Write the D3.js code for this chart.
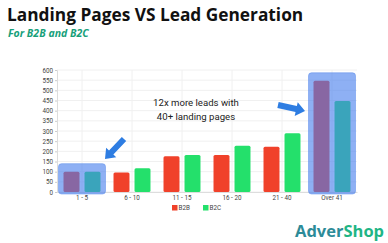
<!DOCTYPE html>
<html>
<head>
<meta charset="utf-8">
<script src="https://cdn.jsdelivr.net/npm/d3@7"></script>
<style>
  body { margin: 0; background: #fff; }
  svg { display: block; }
</style>
</head>
<body>
<svg id="chart" width="388" height="243"></svg>
<script>
const categories = ['1 - 5', '6 - 10', '11 - 15', '16 - 20', '21 - 40', 'Over 41'];
const b2b = [100, 96, 176, 182, 222, 547];
const b2c = [100, 117, 182, 227, 289, 447];
const seriesNames = ['B2B', 'B2C'];
const highlighted = ['1 - 5', 'Over 41'];
const yTicks = d3.range(0, 601, 50);

const margin = { top: 70, left: 57, right: 31, bottom: 51 };
const width = 388, height = 243;
const svg = d3.select('#chart');

// title
svg.append('text')
  .attr('x', 7).attr('y', 21)
  .attr('font-family', 'Open Sans')
  .attr('font-weight', 700)
  .attr('font-size', 17.3)
  .attr('fill', '#111')
  .text('Landing Pages VS Lead Generation');
svg.append('text')
  .attr('x', 8).attr('y', 37)
  .attr('font-family', 'Open Sans')
  .attr('font-weight', 700)
  .attr('font-style', 'italic')
  .attr('font-size', 10.5)
  .attr('fill', '#17a07a')
  .text('For B2B and B2C');

const x = d3.scaleBand()
  .domain(categories)
  .range([margin.left, width - margin.right]);
const y = d3.scaleLinear()
  .domain([0, 600])
  .range([height - margin.bottom, margin.top]);
const sub = d3.scaleBand()
  .domain(seriesNames)
  .range([0, x.bandwidth()])
  .paddingInner(0.24)
  .paddingOuter(0.31);
const color = d3.scaleOrdinal(seriesNames, ['#f0412a', '#24e06b']);

// grid
svg.append('g')
  .selectAll('line.h')
  .data(yTicks)
  .enter()
  .append('line')
  .attr('x1', margin.left).attr('x2', width - margin.right)
  .attr('y1', d => y(d)).attr('y2', d => y(d))
  .attr('stroke', '#f0f0f0');
svg.append('g')
  .selectAll('line.v')
  .data(categories)
  .enter()
  .append('line')
  .attr('x1', d => x(d) + x.bandwidth() / 2).attr('x2', d => x(d) + x.bandwidth() / 2)
  .attr('y1', margin.top).attr('y2', y(0))
  .attr('stroke', '#f0f0f0');

// y axis
const yAxis = svg.append('g')
  .attr('transform', `translate(${margin.left},0)`)
  .call(d3.axisLeft(y).tickValues(yTicks).tickSize(2).tickPadding(2));
yAxis.select('.domain').attr('stroke', '#ddd');
yAxis.selectAll('.tick line').attr('stroke', '#ccc');
yAxis.selectAll('text')
  .attr('font-family', 'Roboto')
  .attr('font-size', 6.3)
  .attr('fill', '#444');

// x axis
const xAxis = svg.append('g')
  .attr('transform', `translate(0,${y(0)})`)
  .call(d3.axisBottom(x).tickSize(0).tickPadding(4));
xAxis.select('.domain').attr('stroke', '#ddd');
xAxis.selectAll('text')
  .attr('font-family', 'Roboto')
  .attr('font-size', 6.3)
  .attr('fill', '#444');

// bars
const rows = categories.map((c, i) => ({ cat: c, values: [b2b[i], b2c[i]] }));
const groups = svg.append('g')
  .selectAll('g')
  .data(rows)
  .enter()
  .append('g')
  .attr('transform', d => `translate(${x(d.cat)},0)`);
groups.selectAll('rect')
  .data(d => d.values.map((v, j) => ({ key: seriesNames[j], v })))
  .enter()
  .append('rect')
  .attr('x', d => sub(d.key))
  .attr('width', sub.bandwidth())
  .attr('y', d => y(d.v))
  .attr('height', d => y(0) - y(d.v))
  .attr('rx', 1.5)
  .attr('fill', d => color(d.key));

// highlight boxes
svg.append('g')
  .selectAll('rect')
  .data(rows.filter(r => highlighted.includes(r.cat)))
  .enter()
  .append('rect')
  .attr('x', d => x(d.cat) + x.bandwidth() / 2 - 23.5)
  .attr('width', 47)
  .attr('y', d => y(d3.max(d.values)) - 8)
  .attr('height', d => y(0) - y(d3.max(d.values)) + 10)
  .attr('rx', 3)
  .attr('fill', 'rgba(72,128,238,0.62)')
  .attr('stroke', 'rgba(90,140,235,0.5)')
  .attr('stroke-width', 1);

// arrows
function arrow(x1, y1, x2, y2) {
  const a = Math.atan2(y2 - y1, x2 - x1);
  const len = Math.hypot(x2 - x1, y2 - y1);
  const head = 9, hw = 7, sw = 3;
  const g = svg.append('g')
    .attr('transform', `translate(${x1},${y1}) rotate(${a * 180 / Math.PI})`);
  g.append('path')
    .attr('d', `M0,${-sw} L${len - head},${-sw} L${len - head},${-hw} L${len},0 L${len - head},${hw} L${len - head},${sw} L0,${sw} Z`)
    .attr('fill', '#2e7de2');
}
arrow(124, 139, 105, 159);
arrow(278, 105, 305, 111);

// annotation
const note = svg.append('text')
  .attr('font-family', 'Roboto')
  .attr('font-size', 9.6)
  .attr('fill', '#222')
  .attr('text-anchor', 'middle');
note.append('tspan').attr('x', 196).attr('y', 106).text('12x more leads with');
note.append('tspan').attr('x', 196).attr('y', 120).text('40+ landing pages');

// legend
const legend = svg.append('g')
  .attr('transform', 'translate(172,205)')
  .selectAll('g')
  .data(seriesNames)
  .enter()
  .append('g')
  .attr('transform', (d, i) => `translate(${i * 31},0)`);
legend.append('rect')
  .attr('width', 5.5).attr('height', 5.5)
  .attr('fill', d => color(d));
legend.append('text')
  .attr('x', 6.5).attr('y', 5)
  .attr('font-family', 'Roboto')
  .attr('font-size', 6.3)
  .attr('fill', '#444')
  .text(d => d);

// logo
const logo = svg.append('text')
  .attr('x', 295).attr('y', 237)
  .attr('font-family', 'Open Sans')
  .attr('font-weight', 700)
  .attr('font-size', 16.5);
logo.append('tspan').attr('fill', '#2d8b98').text('Adver');
logo.append('tspan').attr('fill', '#1fb585').text('Shop');
</script>
</body>
</html>
